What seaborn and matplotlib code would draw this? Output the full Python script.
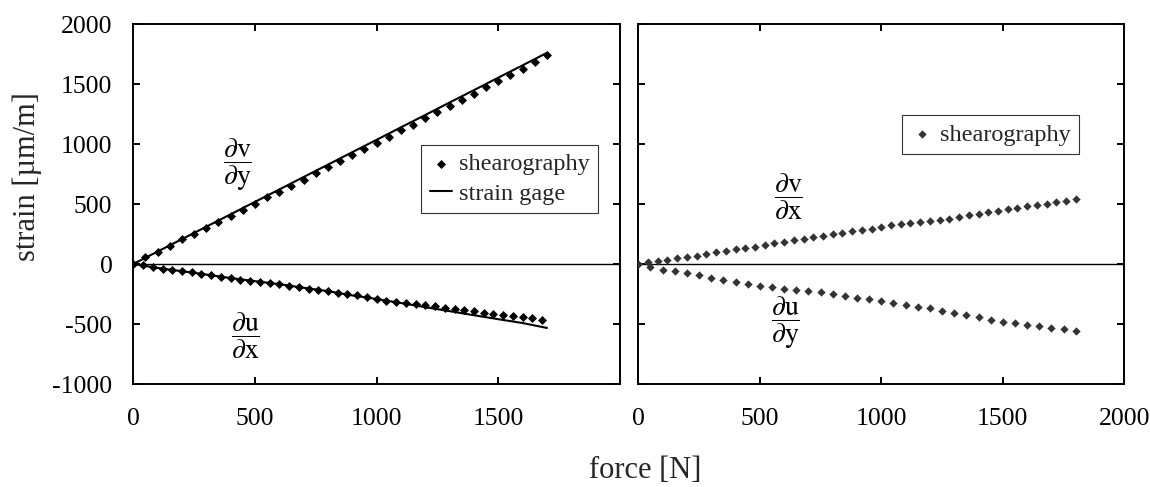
import matplotlib
matplotlib.use("Agg")
import matplotlib.pyplot as plt
import seaborn as sns
import pandas as pd

# left panel: shearography dv/dy (50 N steps)
force_vy = [0, 50, 100, 150, 200, 250, 300, 350, 400, 450, 500, 550, 600, 650, 700, 750, 800, 850,
            900, 950, 1000, 1050, 1100, 1150, 1200, 1250, 1300, 1350, 1400, 1450, 1500, 1550, 1600,
            1650, 1700]
strain_vy = [0, 56, 100, 153, 208, 253, 303, 350, 403, 453, 503, 556, 600, 653, 703, 756, 806, 858,
             908, 956, 1008, 1061, 1114, 1161, 1214, 1267, 1319, 1369, 1417, 1475, 1528, 1575, 1628,
             1683, 1744]

# left panel: shearography du/dx (40 N steps)
force_ux = [0, 40, 80, 120, 160, 200, 240, 280, 320, 360, 400, 440, 480, 520, 560, 600, 640, 680,
            720, 760, 800, 840, 880, 920, 960, 1000, 1040, 1080, 1120, 1160, 1200, 1240, 1280, 1320,
            1360, 1400, 1440, 1480, 1520, 1560, 1600, 1640, 1680]
strain_ux = [0, -11, -25, -42, -53, -61, -69, -83, -94, -108, -119, -131, -139, -147, -158, -169,
             -181, -192, -206, -214, -225, -238, -252, -262, -272, -294, -305, -315, -325, -337, -344,
             -353, -365, -375, -383, -394, -406, -415, -422, -431, -442, -450, -466]

# left panel: strain gage readings
gage_force = [0, 100, 200, 300, 400, 500, 600, 700, 800, 900, 1000, 1100, 1200, 1300, 1400, 1500,
              1600, 1700]
gage_vy = [0, 104, 207, 311, 414, 518, 621, 725, 828, 932, 1035, 1139, 1242, 1346, 1449, 1553, 1656,
           1760]
gage_ux = [0, -33, -60, -88, -117, -143, -168, -198, -226, -262, -292, -325, -360, -393, -427, -460,
           -492, -533]

# right panel: shearography dv/dx (40 N steps)
force_vx = [0, 40, 80, 120, 160, 200, 240, 280, 320, 360, 400, 440, 480, 520, 560, 600, 640, 680,
            720, 760, 800, 840, 880, 920, 960, 1000, 1040, 1080, 1120, 1160, 1200, 1240, 1280, 1320,
            1360, 1400, 1440, 1480, 1520, 1560, 1600, 1640, 1680, 1720, 1760, 1800]
strain_vx = [0, 14, 25, 36, 47, 58, 69, 83, 97, 108, 122, 133, 144, 158, 172, 186, 197, 211, 225, 236,
             247, 261, 272, 281, 292, 306, 322, 331, 342, 350, 358, 369, 378, 392, 405, 420, 433, 444,
             456, 469, 480, 489, 500, 514, 525, 542]

# right panel: shearography du/dy (50 N steps)
force_uy = [0, 50, 100, 150, 200, 250, 300, 350, 400, 450, 500, 550, 600, 650, 700, 750, 800, 850,
            900, 950, 1000, 1050, 1100, 1150, 1200, 1250, 1300, 1350, 1400, 1450, 1500, 1550, 1600,
            1650, 1700, 1750, 1800]
strain_uy = [0, -28, -47, -61, -78, -94, -117, -131, -150, -164, -181, -194, -208, -219, -228, -236,
             -247, -267, -281, -292, -311, -328, -344, -356, -369, -392, -408, -428, -442, -464, -481,
             -492, -506, -517, -531, -542, -556]

sns.set_style("ticks")
plt.rcParams["font.family"] = ["Liberation Serif", "DejaVu Serif"]
plt.rcParams["mathtext.fontset"] = "stix"
plt.rcParams["axes.linewidth"] = 1.4
plt.rcParams["axes.unicode_minus"] = False

fig = plt.figure(figsize=(11.5, 4.87), dpi=100)
ax1 = fig.add_axes([133.3 / 1150, 1 - 384 / 487, 486.7 / 1150, 360 / 487])
ax2 = fig.add_axes([638.3 / 1150, 1 - 384 / 487, 486 / 1150, 360 / 487])

# left panel
sns.scatterplot(x=force_vy, y=strain_vy, ax=ax1, marker="D", s=21, color="black", linewidth=0,
                label="shearography", zorder=3)
sns.scatterplot(x=force_ux, y=strain_ux, ax=ax1, marker="D", s=21, color="black", linewidth=0, zorder=3)
sns.lineplot(x=gage_force, y=gage_vy, ax=ax1, color="black", linewidth=1.5, label="strain gage")
sns.lineplot(x=gage_force, y=gage_ux, ax=ax1, color="black", linewidth=1.5)

# right panel
sns.scatterplot(x=force_vx, y=strain_vx, ax=ax2, marker="D", s=18, color="#333333", linewidth=0,
                label="shearography", zorder=3)
sns.scatterplot(x=force_uy, y=strain_uy, ax=ax2, marker="D", s=18, color="#333333", linewidth=0, zorder=3)

for ax in (ax1, ax2):
    ax.axhline(0, color="black", linewidth=1.0, zorder=1)
    ax.set_xlim(0, 2000)
    ax.set_ylim(-1000, 2000)
    ax.set_yticks([-1000, -500, 0, 500, 1000, 1500, 2000])
    ax.set_xlabel("")
    ax.set_ylabel("")
    ax.tick_params(direction="in", length=5, width=1.4, top=True, right=True, labelsize=18.5,
                   color="black", labelcolor="black")
    ax.tick_params(axis="x", pad=17)
    ax.tick_params(axis="y", pad=15)
    for sp in ax.spines.values():
        sp.set_visible(True)
        sp.set_color("black")

ax1.set_xticks([0, 500, 1000, 1500, 2000])
ax1.set_xticklabels(["0", "500", "1000", "1500", ""])
ax2.set_xticks([0, 500, 1000, 1500, 2000])
ax2.tick_params(axis="y", labelleft=False)

leg1 = ax1.legend(loc="upper right", bbox_to_anchor=(0.955, 0.664), fontsize=17.5, frameon=True,
                  fancybox=False, edgecolor="black", handlelength=0.9, handletextpad=0.3,
                  labelspacing=0.3, borderpad=0.35, borderaxespad=0)
leg1.get_frame().set_linewidth(0.8)
leg2 = ax2.legend(loc="upper right", bbox_to_anchor=(0.907, 0.747), fontsize=17.5, frameon=True,
                  fancybox=False, edgecolor="black", handlelength=0.9, handletextpad=0.3,
                  borderpad=0.35, borderaxespad=0)
leg2.get_frame().set_linewidth(0.8)

frac_kw = dict(fontsize=20, ha="center", va="center", color="black")
ax1.text(430, 828, r"$\dfrac{\partial\mathrm{v}}{\partial\mathrm{y}}$", **frac_kw)
ax1.text(459, -597, r"$\dfrac{\partial\mathrm{u}}{\partial\mathrm{x}}$", **frac_kw)
ax2.text(616, 561, r"$\dfrac{\partial\mathrm{v}}{\partial\mathrm{x}}$", **frac_kw)
ax2.text(604, -489, r"$\dfrac{\partial\mathrm{u}}{\partial\mathrm{y}}$", **frac_kw)

fig.text(27 / 1150, 1 - 177 / 487, "strain [µm/m]", rotation=90, ha="center", va="center", fontsize=22)
fig.text(645 / 1150, 1 - 470 / 487, "force [N]", ha="center", va="center", fontsize=22)

fig.savefig("out.png", dpi=100)
